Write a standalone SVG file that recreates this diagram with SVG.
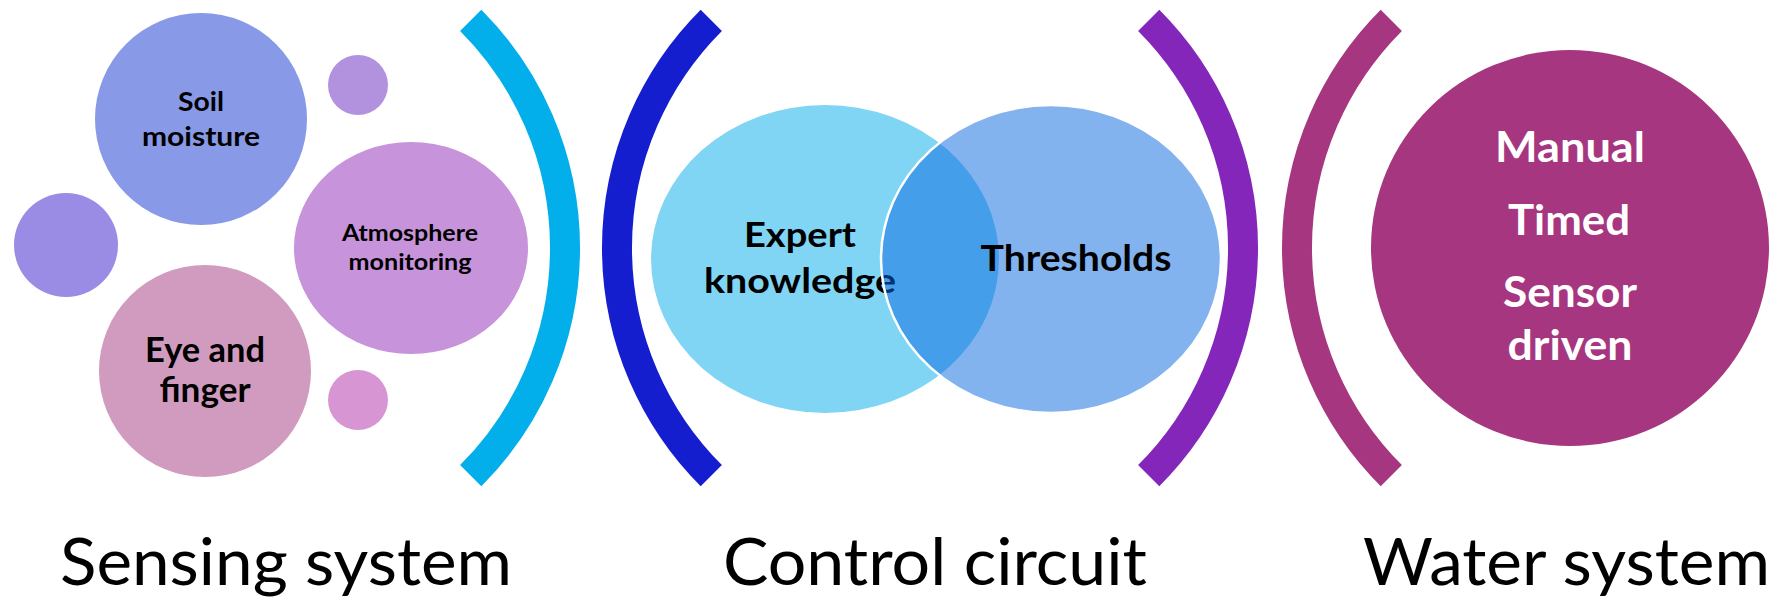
<svg xmlns="http://www.w3.org/2000/svg" width="1777" height="599" viewBox="0 0 1777 599">
  <style>
    .lbl { font-family: Lato, "Liberation Sans", sans-serif; font-weight: 700; text-anchor: middle; fill: #000000; }
    .wlbl { font-family: Lato, "Liberation Sans", sans-serif; font-weight: 700; text-anchor: middle; fill: #FFFFFF; }
    .cap { font-family: Lato, "Liberation Sans", sans-serif; font-weight: 400; font-size: 66px; fill: #000000; }
    .bracket { fill: none; stroke-width: 30; stroke-linecap: butt; }
  </style>
  <rect width="1777" height="599" fill="#FFFFFF"/>

  <!-- Sensing system: bubbles -->
  <g id="soil-moisture">
    <circle cx="201" cy="119" r="106" fill="#8899E8"/>
    <text class="lbl" x="201" y="111" font-size="27" textLength="46" lengthAdjust="spacingAndGlyphs">Soil</text>
    <text class="lbl" x="201" y="146" font-size="27" textLength="118" lengthAdjust="spacingAndGlyphs">moisture</text>
  </g>
  <g id="bubble-top">
    <circle cx="358" cy="85" r="30" fill="#B292DE"/>
  </g>
  <g id="bubble-left">
    <circle cx="66" cy="245" r="52" fill="#9A8BE4"/>
  </g>
  <g id="atmosphere-monitoring">
    <ellipse cx="411" cy="248" rx="117" ry="106" fill="#C793DA"/>
    <text class="lbl" x="410" y="241" font-size="22.5" textLength="136" lengthAdjust="spacingAndGlyphs">Atmosphere</text>
    <text class="lbl" x="410" y="270" font-size="22.5" textLength="123" lengthAdjust="spacingAndGlyphs">monitoring</text>
  </g>
  <g id="eye-and-finger">
    <circle cx="205" cy="371" r="106" fill="#D19BBF"/>
    <text class="lbl" x="205" y="362" font-size="33.5" textLength="120" lengthAdjust="spacingAndGlyphs">Eye and</text>
    <text class="lbl" x="205" y="402" font-size="33.5" textLength="91" lengthAdjust="spacingAndGlyphs">finger</text>
  </g>
  <g id="bubble-bottom">
    <circle cx="358" cy="400" r="30" fill="#D796D3"/>
  </g>

  <!-- Control circuit: overlapping ellipses -->
  <g id="expert-knowledge">
    <ellipse cx="825" cy="259" rx="174" ry="154" fill="rgb(3,171,233)" fill-opacity="0.5"/>
    <text class="lbl" x="800" y="247" font-size="35" textLength="112" lengthAdjust="spacingAndGlyphs">Expert</text>
    <text class="lbl" x="800" y="293" font-size="35" textLength="192" lengthAdjust="spacingAndGlyphs">knowledge</text>
  </g>
  <g id="thresholds">
    <ellipse cx="1051" cy="259" rx="170" ry="154" fill="rgb(7,103,221)" fill-opacity="0.5" stroke="#FFFFFF" stroke-width="2.5"/>
    <text class="lbl" x="1076" y="271" font-size="36" textLength="191" lengthAdjust="spacingAndGlyphs">Thresholds</text>
  </g>

  <!-- Water system -->
  <g id="water-modes">
    <ellipse cx="1570" cy="248" rx="199" ry="198" fill="#A6367F"/>
    <text class="wlbl" x="1570" y="162" font-size="42" textLength="150" lengthAdjust="spacingAndGlyphs">Manual</text>
    <text class="wlbl" x="1569" y="235" font-size="42" textLength="122" lengthAdjust="spacingAndGlyphs">Timed</text>
    <text class="wlbl" x="1570" y="307" font-size="42" textLength="134" lengthAdjust="spacingAndGlyphs">Sensor</text>
    <text class="wlbl" x="1570" y="360" font-size="42" textLength="125" lengthAdjust="spacingAndGlyphs">driven</text>
  </g>

  <!-- Bracket arcs separating the stages -->
  <g id="connectors">
    <path class="bracket" stroke="#02AFEA" d="M 470.7 20.3 A 322 322 0 0 1 470.7 475.7"/>
    <path class="bracket" stroke="#151ECF" d="M 711.3 20.3 A 322 322 0 0 0 711.3 475.7"/>
    <path class="bracket" stroke="#8526BB" d="M 1148.7 20.3 A 322 322 0 0 1 1148.7 475.7"/>
    <path class="bracket" stroke="#A6367F" d="M 1391.3 20.3 A 322 322 0 0 0 1391.3 475.7"/>
  </g>

  <!-- Stage captions -->
  <g id="captions">
    <text class="cap" x="60" y="585" textLength="452" lengthAdjust="spacingAndGlyphs">Sensing system</text>
    <text class="cap" x="723" y="585" textLength="424" lengthAdjust="spacingAndGlyphs">Control circuit</text>
    <text class="cap" x="1363" y="585" textLength="407" lengthAdjust="spacingAndGlyphs">Water system</text>
  </g>
</svg>
